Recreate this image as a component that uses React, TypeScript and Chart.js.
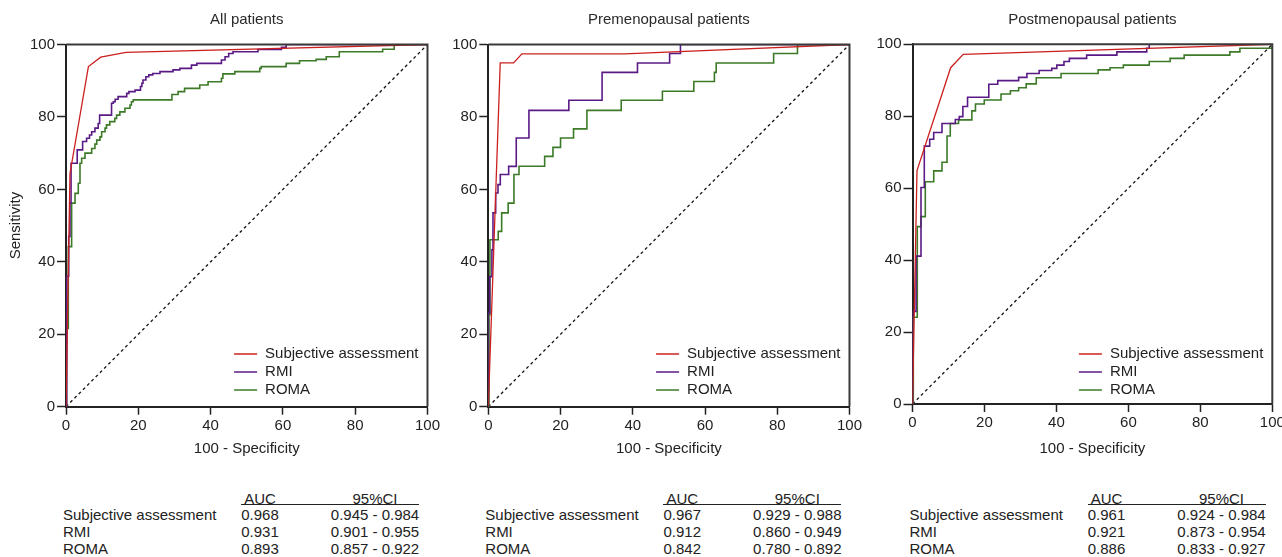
import React, { useEffect, useRef } from "react";
import { Chart, registerables } from "chart.js";

Chart.register(...registerables);

type Pt = [number, number];

// ---------- text ----------
const PANEL_TITLES = ["All patients", "Premenopausal patients", "Postmenopausal patients"];
const SERIES_NAMES = ["Subjective assessment", "RMI", "ROMA"];
const AXIS_TICKS = [0, 20, 40, 60, 80, 100];
const X_LABEL = "100 - Specificity";
const Y_LABEL = "Sensitivity";
const TABLE_HEADERS = ["AUC", "95%CI"];

// ---------- ROC data (x = 100 - specificity, y = sensitivity) ----------
// Subjective assessment: straight segments between ROC points
const allSubjective: Pt[] = [[0, 0], [1.1, 64.4], [6.2, 93.9], [9.6, 96.5], [16.6, 97.8], [100, 100]];
// RMI / ROMA: step points (x at end of each horizontal run, level)
const allRMI: Pt[] = [
  [0, 0], [0.2, 0], [0.75, 36], [1.1, 47], [1.4, 56.2], [3.1, 67.2], [4.6, 70.9], [5.7, 73.2],
  [6.5, 74.1], [7.1, 75.0], [8.0, 75.9], [8.9, 76.9], [9.3, 78.2], [12.6, 80.5], [13.1, 83.8],
  [13.6, 84.2], [14.4, 84.9], [16.8, 85.6], [17.4, 86.5], [19.1, 87.0], [20.6, 87.4], [21.0, 88.4],
  [21.3, 89.3], [22.1, 90.2], [22.9, 91.1], [24.0, 91.6], [26.0, 92.0], [29.6, 92.5], [31.5, 93.0],
  [34.7, 93.4], [36.2, 94.3], [43.0, 94.8], [44.0, 95.7], [45.0, 96.6], [46.2, 97.5], [53.1, 98.0],
  [59.6, 98.6], [60.9, 99.2], [100, 100],
];
const allROMA: Pt[] = [
  [0, 0], [0.15, 0], [0.64, 21.6], [1.56, 44.2], [2.5, 56.2], [3.4, 58.9], [3.87, 61.7], [4.33, 67.2],
  [5.25, 68.6], [7.1, 70.0], [8.0, 71.3], [8.5, 72.5], [9.4, 73.6], [9.86, 74.5], [10.8, 75.9],
  [11.2, 76.9], [12.1, 77.8], [13.5, 78.7], [14.0, 79.6], [14.9, 80.5], [16.3, 81.4], [17.7, 82.4],
  [18.1, 83.3], [18.6, 84.2], [29.3, 84.7], [31.0, 86.2], [32.8, 87.0], [37.0, 87.9], [39.3, 88.8],
  [43.0, 89.7], [43.4, 90.7], [46.7, 91.9], [53.6, 92.5], [54.0, 93.4], [60.9, 93.9], [64.6, 94.8],
  [69.2, 95.5], [72.0, 95.9], [75.6, 96.6], [87.6, 98.0], [90.8, 98.7], [100, 100],
];

const preSubjective: Pt[] = [[0, 0], [3.3, 94.9], [7.0, 94.9], [9.3, 97.4], [37.8, 97.4], [100, 100]];
const preRMI: Pt[] = [
  [0, 0], [0.4, 25.9], [1.0, 35.9], [1.3, 43.3], [2.05, 53.5], [2.68, 59.0], [3.32, 61.3],
  [5.64, 64.1], [7.74, 66.35], [11.25, 74.2], [22.3, 81.8], [31.5, 84.6], [41.3, 92.3],
  [50.2, 94.9], [53.2, 97.5], [100, 100],
];
const preROMA: Pt[] = [
  [0, 0], [0.2, 0], [0.45, 25.3], [2.75, 46.1], [3.7, 48.4], [5.5, 53.5], [7.1, 56.2], [8.5, 64.1],
  [15.6, 66.4], [17.9, 69.1], [20.0, 71.6], [23.6, 74.2], [27.3, 76.7], [36.8, 81.8], [48.2, 84.6],
  [56.9, 87.1], [62.6, 89.8], [63.1, 92.3], [79.0, 94.9], [85.6, 97.5], [100, 100],
];

const postSubjective: Pt[] = [[0, 0], [1.25, 64.9], [10.6, 93.5], [14.1, 97.2], [100, 100]];
const postRMI: Pt[] = [
  [0, 0], [1.0, 25.7], [2.36, 41.1], [3.28, 60.2], [4.78, 71.7], [5.89, 73.6], [8.2, 75.5],
  [11.9, 78.0], [13.0, 79.1], [14.0, 79.9], [15.3, 82.7], [21.2, 85.3], [23.7, 88.9], [29.5, 89.9],
  [31.8, 90.8], [35.2, 91.9], [38.7, 92.7], [40.1, 93.3], [42.1, 94.2], [43.6, 95.2], [48.4, 96.1],
  [56.8, 97.0], [65.1, 97.9], [65.8, 98.9], [100, 100],
];
const postROMA: Pt[] = [
  [0, 0], [0.22, 0], [1.33, 24.1], [2.36, 49.3], [3.56, 52.1], [5.9, 61.8], [8.2, 64.8], [9.6, 67.2],
  [10.5, 74.5], [12.8, 78.0], [16.5, 79.0], [17.5, 81.5], [19.95, 83.4], [24.6, 84.5], [27.2, 86.2],
  [29.5, 87.1], [31.6, 87.9], [34.4, 89.0], [41.3, 90.7], [51.6, 91.9], [54.9, 92.9], [58.6, 93.5],
  [65.8, 94.2], [71.6, 95.2], [75.5, 96.1], [88.2, 97.0], [91.0, 97.9], [100, 98.9], [100, 100],
];
const chanceLine: Pt[] = [[0, 0], [100, 100]];

// ---------- table values ----------
const AUC_ALL = ["0.968", "0.931", "0.893"];
const CI_ALL = ["0.945 - 0.984", "0.901 - 0.955", "0.857 - 0.922"];
const AUC_PRE = ["0.967", "0.912", "0.842"];
const CI_PRE = ["0.929 - 0.988", "0.860 - 0.949", "0.780 - 0.892"];
const AUC_POST = ["0.961", "0.921", "0.886"];
const CI_POST = ["0.924 - 0.984", "0.873 - 0.954", "0.833 - 0.927"];

const PANEL_SERIES: Pt[][][] = [
  [allSubjective, allRMI, allROMA],
  [preSubjective, preRMI, preROMA],
  [postSubjective, postRMI, postROMA],
];
const PANEL_AUC = [AUC_ALL, AUC_PRE, AUC_POST];
const PANEL_CI = [CI_ALL, CI_PRE, CI_POST];

// ---------- styling / layout ----------
const FONT = '"Liberation Sans", Arial, Helvetica, sans-serif';
const TEXT = "#222";
const COLORS = ["#cc2020", "#5a1a86", "#3c7a28"];
const WIDTHS = [1.3, 1.6, 1.6];
const CANVAS_W = 442;
const CANVAS_H = 470;
const GEOM = [
  { canvasLeft: 0, yAxisW: 66, plotW: 362, top: 44.5, xAxisH: 63.3 },
  { canvasLeft: 422, yAxisW: 66.3, plotW: 361.7, top: 44.5, xAxisH: 63.3 },
  { canvasLeft: 846, yAxisW: 66.5, plotW: 359.8, top: 44.3, xAxisH: 66 },
];

Chart.defaults.font.family = FONT;
Chart.defaults.color = TEXT;

const toXY = (pts: Pt[]) => pts.map(([x, y]) => ({ x, y }));

const framePlugin = {
  id: "frame",
  afterDraw(chart: any) {
    const { ctx, chartArea } = chart;
    ctx.save();
    ctx.strokeStyle = "#3a3a3a";
    ctx.lineWidth = 2;
    ctx.beginPath();
    ctx.moveTo(chartArea.left, chartArea.top);
    ctx.lineTo(chartArea.right, chartArea.top);
    ctx.lineTo(chartArea.right, chartArea.bottom);
    ctx.stroke();
    ctx.restore();
  },
};

const legendPlugin = {
  id: "rocLegend",
  afterDraw(chart: any) {
    const { ctx, chartArea } = chart;
    const items = chart.data.datasets.filter((d: any) => d.label);
    ctx.save();
    ctx.font = `15px ${FONT}`;
    const maxW = Math.max(...items.map((d: any) => ctx.measureText(d.label).width));
    const textX = chartArea.right - 9 - maxW;
    items.forEach((d: any, i: number) => {
      const y = 354 + i * 18;
      ctx.strokeStyle = d.borderColor;
      ctx.lineWidth = 1.5;
      ctx.beginPath();
      ctx.moveTo(textX - 31, y);
      ctx.lineTo(textX - 8, y);
      ctx.stroke();
      ctx.fillStyle = TEXT;
      ctx.textBaseline = "middle";
      ctx.textAlign = "left";
      ctx.fillText(d.label, textX, y);
    });
    ctx.restore();
  },
};

function RocPanel({ idx }: { idx: number }) {
  const ref = useRef<HTMLCanvasElement>(null);
  const g = GEOM[idx];
  useEffect(() => {
    const series = PANEL_SERIES[idx];
    const datasets: any[] = series.map((pts, i) => ({
      label: SERIES_NAMES[i],
      data: toXY(pts),
      borderColor: COLORS[i],
      backgroundColor: COLORS[i],
      borderWidth: WIDTHS[i],
      pointRadius: 0,
      tension: 0,
      fill: false,
      stepped: i === 0 ? false : "after",
    }));
    datasets.push({
      label: "",
      data: toXY(chanceLine),
      borderColor: "#111",
      borderWidth: 1.3,
      borderDash: [3, 3],
      pointRadius: 0,
      fill: false,
    });
    const tickSet = (s: any) => {
      s.ticks = AXIS_TICKS.map((v) => ({ value: v }));
    };
    const chart = new Chart(ref.current as HTMLCanvasElement, {
      type: "line",
      data: { datasets },
      plugins: [framePlugin, legendPlugin],
      options: {
        animation: false,
        responsive: false,
        events: [],
        layout: { padding: { left: 0, top: 0, bottom: 0, right: CANVAS_W - g.yAxisW - g.plotW } },
        plugins: {
          legend: { display: false },
          tooltip: { enabled: false },
          title: {
            display: true,
            fullSize: false,
            text: PANEL_TITLES[idx],
            color: "#2a2a2a",
            font: { size: 15, weight: "normal", family: FONT },
            padding: { top: 11, bottom: g.top - 11 - 18 },
          },
        },
        scales: {
          x: {
            type: "linear",
            min: 0,
            max: 100,
            afterBuildTicks: tickSet,
            afterFit: (s: any) => {
              s.height = g.xAxisH;
            },
            ticks: { color: TEXT, font: { size: 15 }, padding: 2, maxRotation: 0, autoSkip: false },
            grid: { drawOnChartArea: false, drawTicks: true, tickLength: 8, tickWidth: 1.5, tickColor: TEXT },
            border: { display: true, color: TEXT, width: 2 },
            title: { display: true, text: X_LABEL, color: TEXT, font: { size: 15 }, padding: { top: 0, bottom: 12 } },
          },
          y: {
            type: "linear",
            min: 0,
            max: 100,
            afterBuildTicks: tickSet,
            afterFit: (s: any) => {
              s.width = g.yAxisW;
            },
            ticks: { color: TEXT, font: { size: 15 }, padding: 2, autoSkip: false },
            grid: { drawOnChartArea: false, drawTicks: true, tickLength: 9, tickWidth: 1.5, tickColor: TEXT },
            border: { display: true, color: TEXT, width: 2 },
            title: { display: idx === 0, text: Y_LABEL, color: TEXT, font: { size: 15 }, padding: { top: 7, bottom: 0 } },
          },
        },
      } as any,
    });
    return () => chart.destroy();
  }, [idx]);
  return (
    <canvas
      ref={ref}
      width={CANVAS_W}
      height={CANVAS_H}
      style={{ position: "absolute", left: g.canvasLeft, top: 0, width: CANVAS_W, height: CANVAS_H }}
    />
  );
}

function Txt({ x, cy, align, children }: { x: number; cy: number; align: "left" | "center"; children: React.ReactNode }) {
  const style: React.CSSProperties = {
    position: "absolute",
    top: cy - 9,
    height: 18,
    lineHeight: "18px",
    fontSize: 15,
    whiteSpace: "nowrap",
    color: TEXT,
  };
  if (align === "left") {
    style.left = x;
  } else {
    style.left = x - 80;
    style.width = 160;
    style.textAlign = "center";
  }
  return <div style={style}>{children}</div>;
}

function StatsTable({ idx }: { idx: number }) {
  const g = GEOM[idx];
  const L = g.canvasLeft + g.yAxisW;
  const rowsY = [514.5, 532, 549.3];
  return (
    <>
      <Txt x={L + 194} cy={499} align="center">{TABLE_HEADERS[0]}</Txt>
      <Txt x={L + 309} cy={499} align="center">{TABLE_HEADERS[1]}</Txt>
      <div style={{ position: "absolute", left: L + 175, top: 503.6, width: 178, height: 1.5, background: TEXT }} />
      {SERIES_NAMES.map((name, i) => (
        <React.Fragment key={name}>
          <Txt x={L - 3} cy={rowsY[i]} align="left">{name}</Txt>
          <Txt x={L + 194} cy={rowsY[i]} align="center">{PANEL_AUC[idx][i]}</Txt>
          <Txt x={L + 309} cy={rowsY[i]} align="center">{PANEL_CI[idx][i]}</Txt>
        </React.Fragment>
      ))}
    </>
  );
}

export default function App() {
  return (
    <div
      style={{
        position: "absolute",
        left: 0,
        top: 0,
        width: 1282,
        height: 557,
        overflow: "hidden",
        background: "#fff",
        fontFamily: FONT,
      }}
    >
      {[0, 1, 2].map((i) => (
        <RocPanel key={`p${i}`} idx={i} />
      ))}
      {[0, 1, 2].map((i) => (
        <StatsTable key={`t${i}`} idx={i} />
      ))}
    </div>
  );
}
